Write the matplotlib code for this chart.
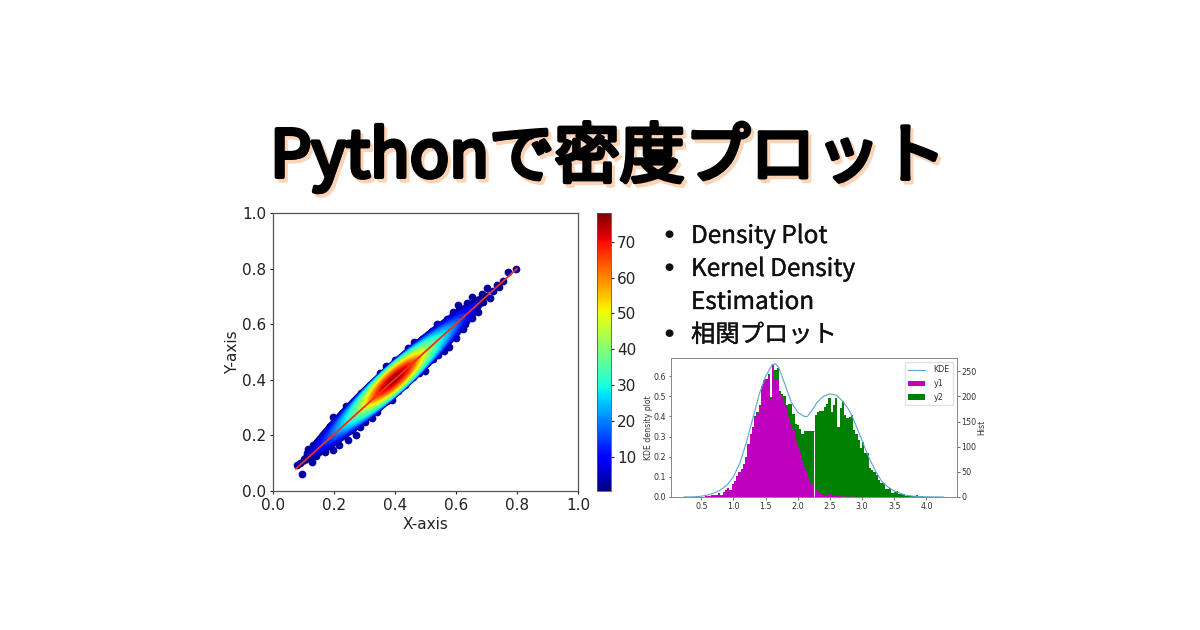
import numpy as np
import matplotlib
matplotlib.use("Agg")
import matplotlib.pyplot as plt
import matplotlib.patheffects as pe
from matplotlib.cm import ScalarMappable
from matplotlib.colors import Normalize

W, H = 1200, 630
TITLE = "Pythonで密度プロット"
BULLETS = ["Density Plot", "Kernel Density", "Estimation", "相関プロット"]
BULLET_MARK = [True, True, False, True]

# scatter: outlying points (dark blue)
pts_x = [.796,.772,.742,.733,.703,.712,.684,.651,.668,.673,.606,.589,.651,.624,.537,.520,.600,.578,.462,.444,.369,.351,.318,.287,.247,.225,.196,.187,.165,.116,.132,.078,.094,.127,.198,.247,.272,.285,.323,.389,.433,.498,.542,
         .10,.11,.14,.15,.17,.18,.21,.215,.23,.26,.27,.30,.30,.34,.35,.41,.40,.46,.44,.51,.49,.55,.56,.58,.60,.63,.62,.66,.69,.72,.755,.09,.125,.155,.13,
         .635,.61,.57,.53,.50,.48,.42,.38,.33,.29,.25,.22,.19,.16,.12,.145,.175,.20,.24,.36,.47,.565,.615,.645,.31,.28,.255,.34,.375,.41,.48,.525,.56]
pts_y = [.798,.787,.735,.741,.729,.695,.709,.699,.687,.645,.669,.643,.621,.582,.601,.576,.549,.519,.537,.513,.451,.423,.381,.354,.297,.279,.267,.235,.201,.151,.159,.093,.061,.105,.147,.183,.201,.231,.261,.327,.381,.433,.489,
         .115,.135,.125,.17,.14,.185,.20,.165,.25,.22,.31,.25,.345,.30,.41,.36,.47,.41,.50,.47,.545,.52,.605,.56,.63,.60,.655,.66,.68,.72,.755,.10,.14,.155,.165,
         .675,.65,.62,.58,.55,.51,.48,.44,.39,.33,.28,.24,.22,.175,.125,.175,.205,.235,.305,.345,.435,.535,.585,.635,.365,.335,.235,.285,.325,.365,.425,.475,.505]

# nested iso-density bands: density, half length, half width (data units)
band_level = [2, 5, 8, 11, 14, 17, 20, 23, 26, 29, 32, 35, 38, 41, 44, 47, 50, 53, 56, 59, 62, 65, 68, 71, 74, 76]
band_long  = [.44,.41,.385,.36,.335,.31,.29,.27,.25,.23,.215,.20,.185,.17,.16,.15,.14,.13,.12,.112,.102,.092,.082,.068,.052,.035]
band_short = [.052,.051,.050,.050,.049,.049,.048,.048,.047,.046,.045,.043,.041,.040,.038,.036,.034,.032,.030,.028,.025,.022,.019,.015,.011,.007]
band_center = (0.397, 0.402)

fit_x = [0.075, 0.80]
fit_y = [0.080, 0.80]

# histogram bins (counts)
bin_start, bin_width = 0.55, 0.035
y1 = [1,2,1,3,4,3,7,4,9,14,18,14,25,32,42,50,55,66,80,105,125,139,160,168,182,218,228,232,240,195,263,233,233,205,198,185,178,160,148,135,112,100,88,72,60,50,38,28,24,15,10,8,5,4,3,5,2,1,2,1,1,0,1,0,0,1,0,0,0,0,
      0,0,0,0,0,0,0,0,0,0,0,0,0,0,0,0,0,0,0,0,0,0,0,0,0,0,0,0,0,0]
envelope = [1,2,1,3,4,3,7,4,9,14,18,14,25,32,42,50,55,66,80,105,125,140,161,170,184,220,232,235,245,198,265,253,256,211,205,200,184,185,185,165,145,143,136,126,131,131,131,131,131,164,170,172,172,180,185,197,170,184,197,140,178,190,164,157,160,164,134,125,114,97,
            110,87,87,58,54,50,44,33,28,28,16,15,18,8,9,11,6,5,3,2,2,1,2,1,3,2,1,0,0,0]
y2 = [e - a for e, a in zip(envelope, y1)]
gap_x, gap_top = 2.25, 131

kde_x = [.23,.4,.5,.6,.7,.8,.9,1.0,1.1,1.2,1.3,1.4,1.5,1.6,1.65,1.7,1.8,1.9,2.0,2.1,2.15,2.2,2.3,2.4,2.5,2.6,2.7,2.8,2.9,3.0,3.1,3.2,3.3,3.4,3.5,3.6,3.7,3.8,3.9,4.0,4.27]
kde_y = [0,.001,.004,.01,.02,.035,.06,.10,.17,.27,.39,.51,.60,.655,.662,.645,.56,.47,.42,.40,.40,.42,.47,.50,.512,.505,.475,.43,.36,.28,.20,.135,.08,.05,.03,.017,.008,.004,.002,.001,0]


def box(l, t, r, b):
    return [l / W, 1 - b / H, (r - l) / W, (b - t) / H]


fig = plt.figure(figsize=(12, 6.3), dpi=100, facecolor="white")
GREY = "#8a8a8a"

# ---------- main scatter ----------
ax = fig.add_axes(box(273, 213, 578, 491))
norm = Normalize(0.5, 78)
cmap = plt.get_cmap("jet")
ax.scatter(pts_x, pts_y, s=31, color=cmap(norm(3)), linewidths=0, zorder=2)
u = np.linspace(-1, 1, 201)
for lev, a, b in zip(band_level, band_long, band_short):
    w = b * (1 - u ** 2) ** 0.65
    s_ = np.r_[a * u, a * u[::-1]]
    n_ = np.r_[w, -w[::-1]]
    px = band_center[0] + (s_ - n_) / np.sqrt(2)
    py = band_center[1] + (s_ + n_) / np.sqrt(2)
    ax.fill(px, py, color=cmap(norm(lev)), lw=0.3, zorder=3)
ax.plot(fit_x, fit_y, color="#f03020", lw=1.3, zorder=4)
ax.set_xlim(0, 1)
ax.set_ylim(0, 1)
ax.set_xticks(np.arange(0, 1.01, .2))
ax.set_yticks(np.arange(0, 1.01, .2))
ax.tick_params(labelsize=11, length=2.5, width=0.8, pad=2.5, colors="#222222")
ax.set_xlabel("X-axis", fontsize=11, labelpad=3, color="#222222")
ax.set_ylabel("Y-axis", fontsize=11, labelpad=1, color="#222222")
for s in ax.spines.values():
    s.set_color("#555555")
    s.set_linewidth(0.9)

# ---------- colour bar ----------
cax = fig.add_axes(box(597, 213, 611, 491))
cb = fig.colorbar(ScalarMappable(norm=norm, cmap=cmap), cax=cax)
cb.set_ticks(range(10, 71, 10))
cb.ax.tick_params(labelsize=11, length=2.5, width=0.8, pad=2, colors="#222222")
cb.outline.set_edgecolor("#555555")
cb.outline.set_linewidth(0.6)

# ---------- bullets ----------
fam = ["Noto Sans CJK JP", "DejaVu Sans"]
for (txt, mark), yy in zip(zip(BULLETS, BULLET_MARK), [236, 269, 302, 335]):
    fig.text(691 / W, 1 - yy / H, txt, fontsize=17.5, va="center", ha="left",
             family=fam, color="#111111",
             path_effects=[pe.withStroke(linewidth=0.25, foreground="#111111")])
    if mark:
        fig.text(669 / W, 1 - (yy - 2) / H, "●", fontsize=7.5, va="center", ha="center",
                 family="DejaVu Sans", color="#111111")

# ---------- histogram + KDE ----------
axl = fig.add_axes(box(671, 358, 957, 497))
axr = axl.twinx()
lefts = [bin_start + i * bin_width for i in range(len(y1))]
b1 = axr.bar(lefts, y1, width=bin_width, align="edge", color="#bf00bf", lw=0, label="y1", zorder=2)
b2 = axr.bar(lefts, y2, bottom=y1, width=bin_width, align="edge", color="#008000", lw=0, label="y2", zorder=2)
axr.vlines(gap_x, 0, gap_top, color="#f4e8f4", lw=0.8, zorder=3)
axl.set_xlim(0.028, 4.476)
axl.set_ylim(0, 0.69)
axr.set_ylim(0, 276.5)
axl.set_zorder(3)
axl.patch.set_visible(False)
kde_line, = axl.plot(kde_x, kde_y, color="#5aa5d5", lw=0.8, label="KDE")
axl.set_xticks(np.arange(.5, 4.01, .5))
axl.set_yticks(np.arange(0, .61, .1))
axr.set_yticks(range(0, 251, 50))
for a_ in (axl, axr):
    a_.tick_params(labelsize=5.8, length=1.8, width=0.5, pad=1.5, colors="#333333")
    for s in a_.spines.values():
        s.set_color(GREY)
        s.set_linewidth(0.7)
axl.set_ylabel("KDE density plot", fontsize=5.6, labelpad=0.5, color="#333333")
axr.set_ylabel("Hist", fontsize=5.6, labelpad=0.5, color="#333333")
axl.legend(handles=[kde_line, b1, b2], loc="upper right", fontsize=5.8, borderpad=.4,
           labelspacing=.6, handlelength=2.2, bbox_to_anchor=(0.986, 0.97),
           borderaxespad=0, handletextpad=1.0, framealpha=.85, edgecolor="#dddddd",
           labelcolor="#333333")

# ---------- title ----------
cx, cy = 608 / W, 1 - 157 / H
fig.text(cx, cy, TITLE, fontsize=47, fontweight="normal", family=fam,
         ha="center", va="center", color="black",
         path_effects=[pe.Stroke(linewidth=3.0, foreground="#fdd3b5", offset=(2.2, -2.6)),
                       pe.Stroke(linewidth=3.0, foreground="black"),
                       pe.Normal()])

fig.savefig("out.png", dpi=100, facecolor="white")
